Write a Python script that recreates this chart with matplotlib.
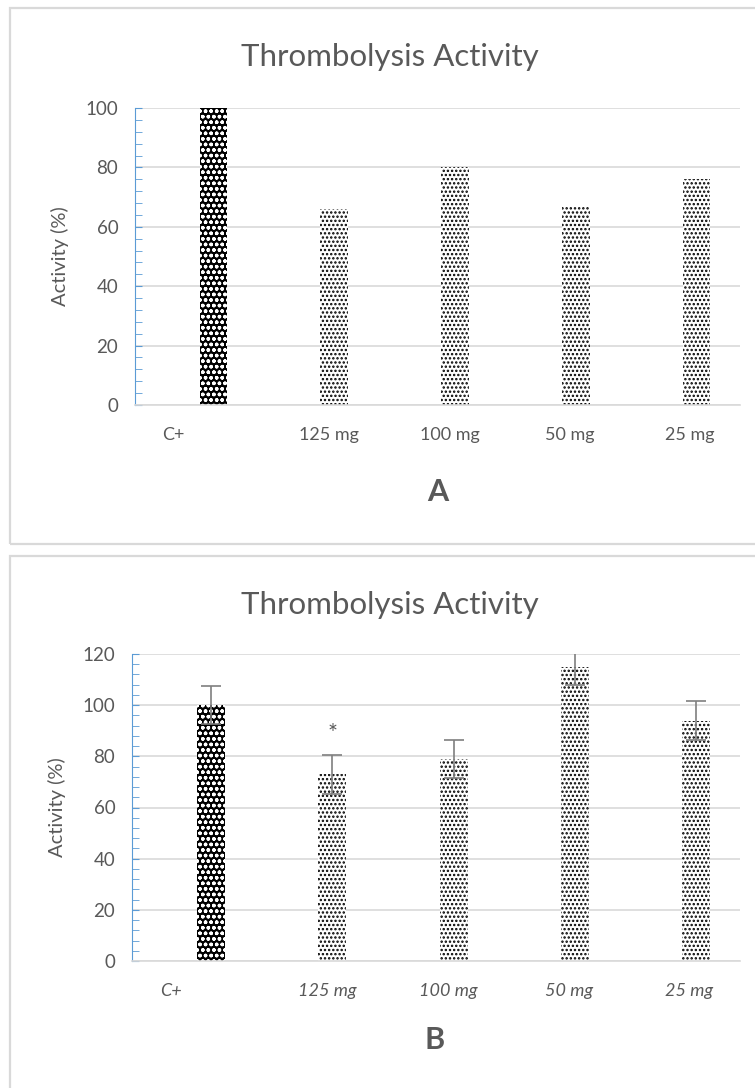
import matplotlib.pyplot as plt
import numpy as np
from matplotlib.patches import Rectangle

plt.rcParams['font.family'] = ['Lato', 'DejaVu Sans']

groups = ["C+", "125 mg", "100 mg", "50 mg", "25 mg"]
activity_a = [100, 66, 80, 67, 76]
activity_b = [100, 73, 79, 115, 94]
error_b = [7.5, 7.6, 7.4, 7.3, 7.6]

TXT = "#595959"
GRID = "#d9d9d9"
BLUE = "#5b9bd5"

fig = plt.figure(figsize=(7.55, 10.88), dpi=100)

# panel frames
fig.patches.append(Rectangle((10 / 755, (1088 - 544) / 1088), 0.99, 536 / 1088,
                             transform=fig.transFigure, fill=False, ec=GRID, lw=1.6))
fig.patches.append(Rectangle((10 / 755, -0.05), 0.99, (1088 - 556) / 1088 + 0.05,
                             transform=fig.transFigure, fill=False, ec=GRID, lw=1.6))


def panel(rect, vals, ymax, italic, err=None):
    ax = fig.add_axes(rect)
    x = np.arange(len(vals))
    for i, v in enumerate(vals):
        if i == 0:
            with plt.rc_context({'hatch.linewidth': 1.0}):
                ax.bar(x[i], v, width=0.23, color="black", edgecolor="white",
                       hatch="ooo", linewidth=0, zorder=2)
        else:
            with plt.rc_context({'hatch.linewidth': 1.15}):
                ax.bar(x[i], v, width=0.23, color="white", edgecolor="black",
                       hatch="....", linewidth=0, zorder=2)
    if err is not None:
        ax.errorbar(x, vals, yerr=err, fmt="none", ecolor="#7f7f7f",
                    elinewidth=1.2, capsize=7, capthick=1.2, zorder=3)
    ax.set_xlim(-0.65, 4.36)
    ax.set_ylim(0, ymax)
    ax.set_yticks(np.arange(0, ymax + 1, 20))
    ax.set_yticks(np.arange(0, ymax + 1, 4), minor=True)
    ax.yaxis.grid(True, color=GRID, lw=1.2, zorder=0)
    ax.set_axisbelow(True)
    for s in ["top", "right"]:
        ax.spines[s].set_visible(False)
    ax.spines["bottom"].set_color(GRID)
    ax.spines["bottom"].set_linewidth(1.2)
    ax.spines["left"].set_color(BLUE)
    ax.tick_params(axis="y", which="both", direction="in", length=5,
                   color=BLUE, labelcolor=TXT, labelsize=13.5, pad=12)
    ax.tick_params(axis="x", length=0, labelcolor=TXT, labelsize=13, pad=16)
    shift = [0.33, 0.04, 0.04, 0.05, 0.06]
    ax.set_xticks(x - np.array(shift))
    ax.set_xticklabels(groups, style="italic" if italic else "normal")
    ax.set_ylabel("Activity (%)", color=TXT, fontsize=14.5, labelpad=12)
    return ax


ax_a = panel([135 / 755, (1088 - 405) / 1088, 605 / 755, 297 / 1088],
             activity_a, 100, False)
ax_b = panel([132 / 755, (1088 - 961) / 1088, 608 / 755, 307 / 1088],
             activity_b, 120, True, error_b)
ax_b.text(1, activity_b[1] + error_b[1] + 8.5, "*", ha="center", va="center",
          color="#595959", fontsize=17)

fig.text(390 / 755, 1 - 57 / 1088, "Thrombolysis Activity", ha="center",
         va="center", color=TXT, fontsize=22.5)
fig.text(390 / 755, 1 - 605 / 1088, "Thrombolysis Activity", ha="center",
         va="center", color=TXT, fontsize=22.5)
fig.text(438 / 755, 1 - 492 / 1088, "A", ha="center", va="center",
         color=TXT, fontsize=22, fontweight="bold")
fig.text(435 / 755, 1 - 1040 / 1088, "B", ha="center", va="center",
         color=TXT, fontsize=22, fontweight="bold")

fig.savefig("out.png", dpi=100)
